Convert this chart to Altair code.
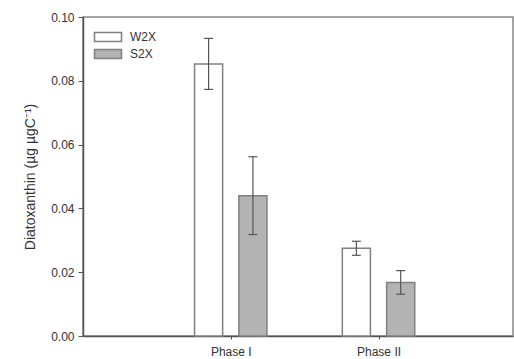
import altair as alt
import pandas as pd

# Diatoxanthin content per treatment and phase (mean ± error)
phases = ["Phase I", "Phase II"]
phase_pos = [1, 2]
w2x_mean = [0.0853, 0.0275]
w2x_err = [0.0080, 0.0022]
s2x_mean = [0.0440, 0.0168]
s2x_err = [0.0122, 0.0037]

rows = []
for i, ph in enumerate(phases):
    rows.append({"phase": ph, "pos": phase_pos[i], "treat": "W2X", "side": -1,
                 "mean": w2x_mean[i], "err": w2x_err[i]})
    rows.append({"phase": ph, "pos": phase_pos[i], "treat": "S2X", "side": 1,
                 "mean": s2x_mean[i], "err": s2x_err[i]})
df = pd.DataFrame(rows)

AX = "#555555"
TXT = "#333333"
FONT = "Liberation Sans"

base = alt.Chart(df).transform_calculate(
    x0="datum.pos + datum.side * 0.055",
    x1="datum.pos + datum.side * 0.245",
    xc="datum.pos + datum.side * 0.15",
    cap0="datum.pos + datum.side * 0.15 - 0.03",
    cap1="datum.pos + datum.side * 0.15 + 0.03",
    lo="datum.mean - datum.err",
    hi="datum.mean + datum.err",
)

xscale = alt.Scale(domain=[0, 2.91], nice=False, zero=False)
yscale = alt.Scale(domain=[0, 0.1], nice=False)

xaxis = alt.Axis(
    values=phase_pos,
    labelExpr="datum.value == 1 ? 'Phase I' : 'Phase II'",
    title=None, grid=False, tickSize=3, labelPadding=7,
    labelFontSize=12, labelColor=TXT, labelFont=FONT,
    domainColor=AX, tickColor=AX, domainWidth=1.5,
)
yaxis = alt.Axis(
    values=[0, 0.02, 0.04, 0.06, 0.08, 0.10], format=".2f",
    title="Diatoxanthin (µg µgC⁻¹)", grid=False, tickSize=5,
    labelPadding=4, labelFontSize=12, labelColor=TXT, labelFont=FONT,
    titleFontSize=14, titleFont=FONT, titleColor=TXT, titleFontWeight="normal",
    titlePadding=13, domainColor=AX, tickColor=AX, domainWidth=1.5,
)

bars = base.mark_bar(stroke="#808080", strokeWidth=1.5).encode(
    x=alt.X("x0:Q", scale=xscale, axis=xaxis),
    x2="x1:Q",
    y=alt.Y("mean:Q", scale=yscale, axis=yaxis),
    y2=alt.datum(0),
    fill=alt.Fill(
        "treat:N",
        scale=alt.Scale(domain=["W2X", "S2X"], range=["#ffffff", "#b3b3b3"]),
        legend=alt.Legend(
            title=None, orient="none", legendX=19, legendY=14, padding=0,
            symbolType="M-3,-1L3,-1L3,1L-3,1Z", symbolSize=81,
            symbolStrokeColor="#808080", symbolStrokeWidth=1.5,
            symbolOpacity=1, labelOffset=16, rowPadding=1,
            labelFontSize=12, labelColor=TXT, labelFont=FONT,
        ),
    ),
)

err = base.mark_rule(color="#555555", strokeWidth=1.2).encode(
    x="xc:Q", y="lo:Q", y2="hi:Q"
)
cap_hi = base.mark_rule(color="#555555", strokeWidth=1.2).encode(
    x="cap0:Q", x2="cap1:Q", y="hi:Q"
)
cap_lo = base.mark_rule(color="#555555", strokeWidth=1.2).encode(
    x="cap0:Q", x2="cap1:Q", y="lo:Q"
)

chart = alt.layer(bars, err, cap_hi, cap_lo).properties(
    width=430, height=319,
    autosize=alt.AutoSizeParams(type="none"),
    padding={"left": 83, "top": 17, "right": 1, "bottom": 23},
    background="white",
).configure_view(stroke="#888888", strokeWidth=1.5)

chart.save("out.html", embed_options={"renderer": "svg", "actions": False})
